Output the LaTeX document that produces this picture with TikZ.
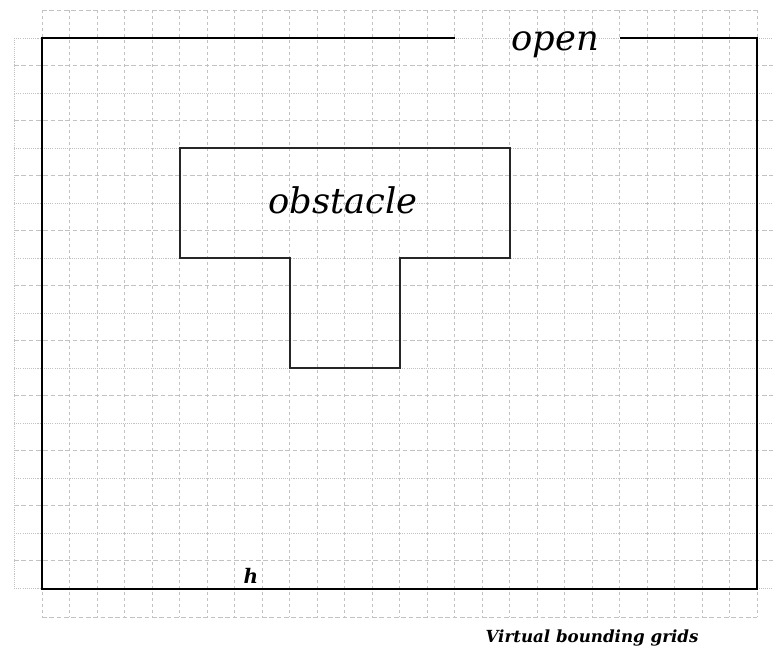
\documentclass[tikz,border=0pt]{standalone}
\usepackage{fontspec}
\setmainfont{DejaVu Serif}
\begin{document}
\begin{tikzpicture}[x=0.75pt,y=-0.75pt,
  gridv/.style={draw=black!24,line width=0.6pt,dash pattern=on 2.5pt off 2pt},
  gridh/.style={draw=black!24,line width=0.6pt,dash pattern=on 3.5pt off 2pt},
  gridd/.style={draw=black!24,line width=0.6pt,dash pattern=on 0.8pt off 0.8pt},
  border/.style={draw=black,line width=1.3pt},
  obst/.style={draw=black!85,line width=1pt},
  bigit/.style={font=\fontsize{26.5}{30}\selectfont\itshape,inner sep=0pt},
  smallit/.style={font=\fontsize{12.5}{15}\selectfont\bfseries\itshape,inner sep=0pt}]
\useasboundingbox (0,0) rectangle (773,647);
% virtual grid: columns
\foreach \k in {0,...,26}
  \draw[gridv] ({42+\k*27.5},10) -- ({42+\k*27.5},617);
\draw[gridd] (14.5,38) -- (14.5,589);
% virtual grid: rows, alternating dashed and dotted
\foreach \j in {1,3,...,19}
  \draw[gridh] (14,{38+\j*27.5}) -- (773,{38+\j*27.5});
\foreach \j in {0,2,...,20}
  \draw[gridd] (14,{38+\j*27.5}) -- (773,{38+\j*27.5});
\draw[gridh] (42,10) -- (757,10);
\draw[gridh] (42,617) -- (757,617);
% outer boundary, open at the top
\coordinate (gl) at (455,38);
\coordinate (gr) at (620,38);
\draw[border] (gl) -- (42,38) -- (42,589) -- (757,589) -- (757,38) -- (gr);
\node[bigit,anchor=base] (open) at (555,50) {open};
% T-shaped obstacle
\draw[obst] (180,148) -- (510,148) -- (510,258) -- (400,258) -- (400,368)
  -- (290,368) -- (290,258) -- (180,258) -- cycle;
\node[bigit,anchor=base] (obs) at (343,213) {obstacle};
% labels
\node[smallit,anchor=base,font=\fontsize{15}{17}\selectfont\bfseries\itshape] (h) at (251,583) {h};
\node[smallit,anchor=base] (vbg) at (592,642) {Virtual bounding grids};
\end{tikzpicture}
\end{document}
